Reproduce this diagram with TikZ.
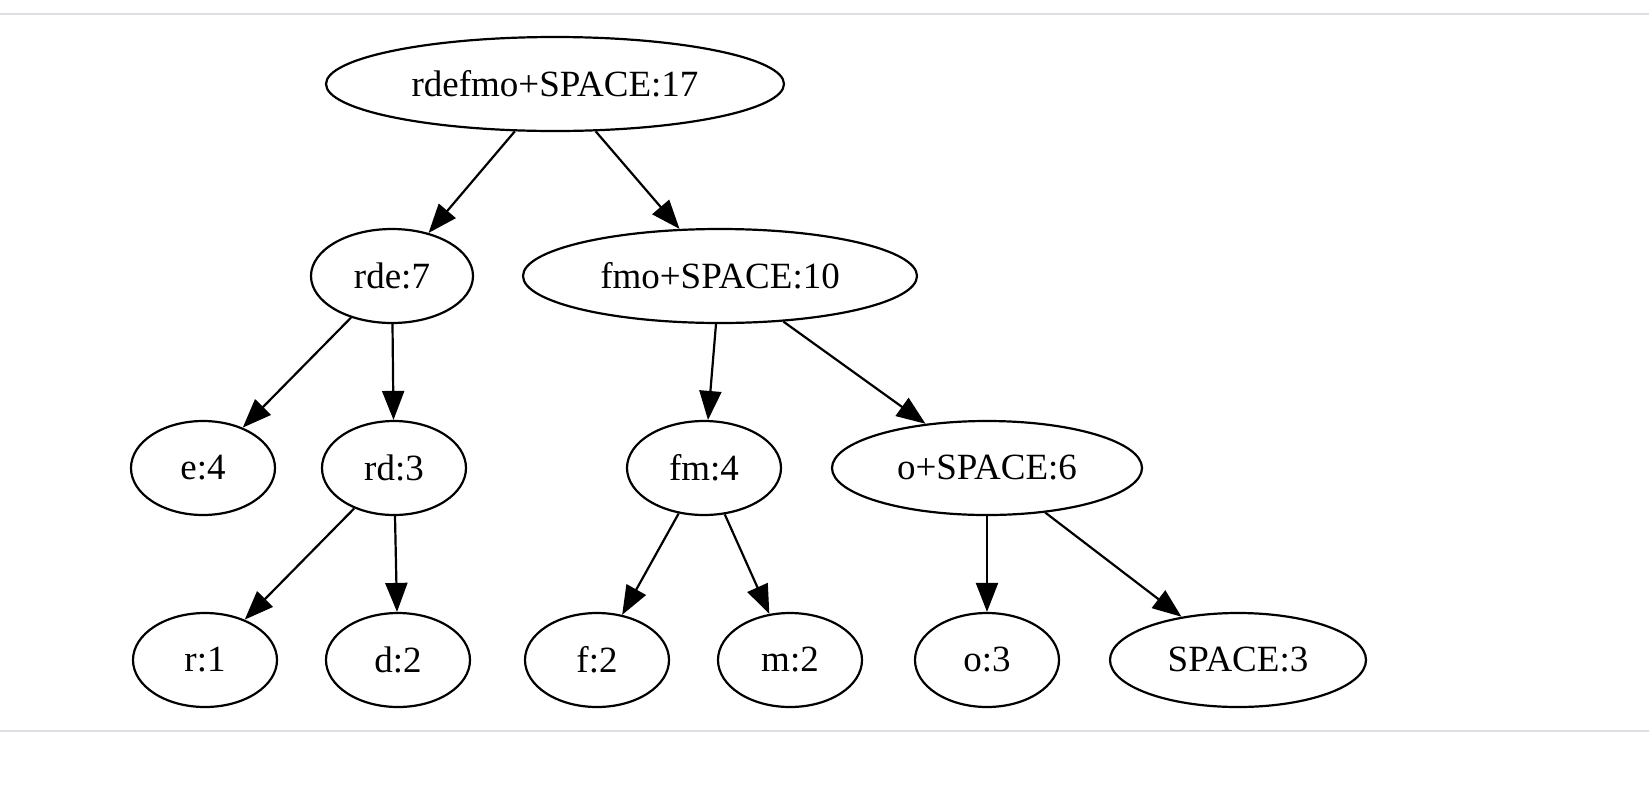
\documentclass[tikz,border=0pt]{standalone}
\usepackage{fontspec}
\setmainfont{Liberation Serif}
\usetikzlibrary{shapes.geometric}
\usepgflibrary{arrows.meta}
\definecolor{rulegray}{RGB}{222,222,226}

\begin{document}
\begin{tikzpicture}
       		[x=1pt,y=-1pt,line width=2.2pt,
       		 every node/.style={draw=black,ellipse,inner sep=0pt,minimum height=94pt,font=\fontsize{37}{44}\selectfont},
       		 edge/.style={-{Triangle[length=29pt,width=22pt]}}]
       	 		\useasboundingbox (0,0) rectangle (1649,804);
       	 		\draw[rulegray,line width=2pt] (0,14) -- (1649,14);
       	 		\draw[rulegray,line width=2pt] (0,731) -- (1649,731);
            \node[minimum width=458pt] (root) at (555,84) {rdefmo+SPACE:17};
            \node[minimum width=162pt] (rde) at (392,276) {rde:7};
            \node[minimum width=394pt] (fmo) at (720,276) {fmo+SPACE:10};
            \node[minimum width=144pt] (e) at (203,468) {e:4};
            \node[minimum width=144pt] (rd) at (394,468) {rd:3};
            \node[minimum width=154pt] (fm) at (704,468) {fm:4};
            \node[minimum width=310pt] (osp) at (987,468) {o+SPACE:6};
            \node[minimum width=144pt] (r) at (205,660) {r:1};
            \node[minimum width=144pt] (d) at (398,660) {d:2};
            \node[minimum width=144pt] (f) at (597,660) {f:2};
            \node[minimum width=144pt] (m) at (790,660) {m:2};
            \node[minimum width=144pt] (o) at (987,660) {o:3};
            \node[minimum width=256pt] (sp) at (1238,660) {SPACE:3};
            \draw[edge] (root) -- (rde);
            \draw[edge] (root) -- (fmo);
            \draw[edge] (rde) -- (e);
            \draw[edge] (rde) -- (rd);
            \draw[edge] (fmo) -- (fm);
            \draw[edge] (fmo) -- (osp);
            \draw[edge] (rd) -- (r);
            \draw[edge] (rd) -- (d);
            \draw[edge] (fm) -- (f);
            \draw[edge] (fm) -- (m);
            \draw[edge] (osp) -- (o);
            \draw[edge] (osp) -- (sp);
    	\end{tikzpicture}
\end{document}
